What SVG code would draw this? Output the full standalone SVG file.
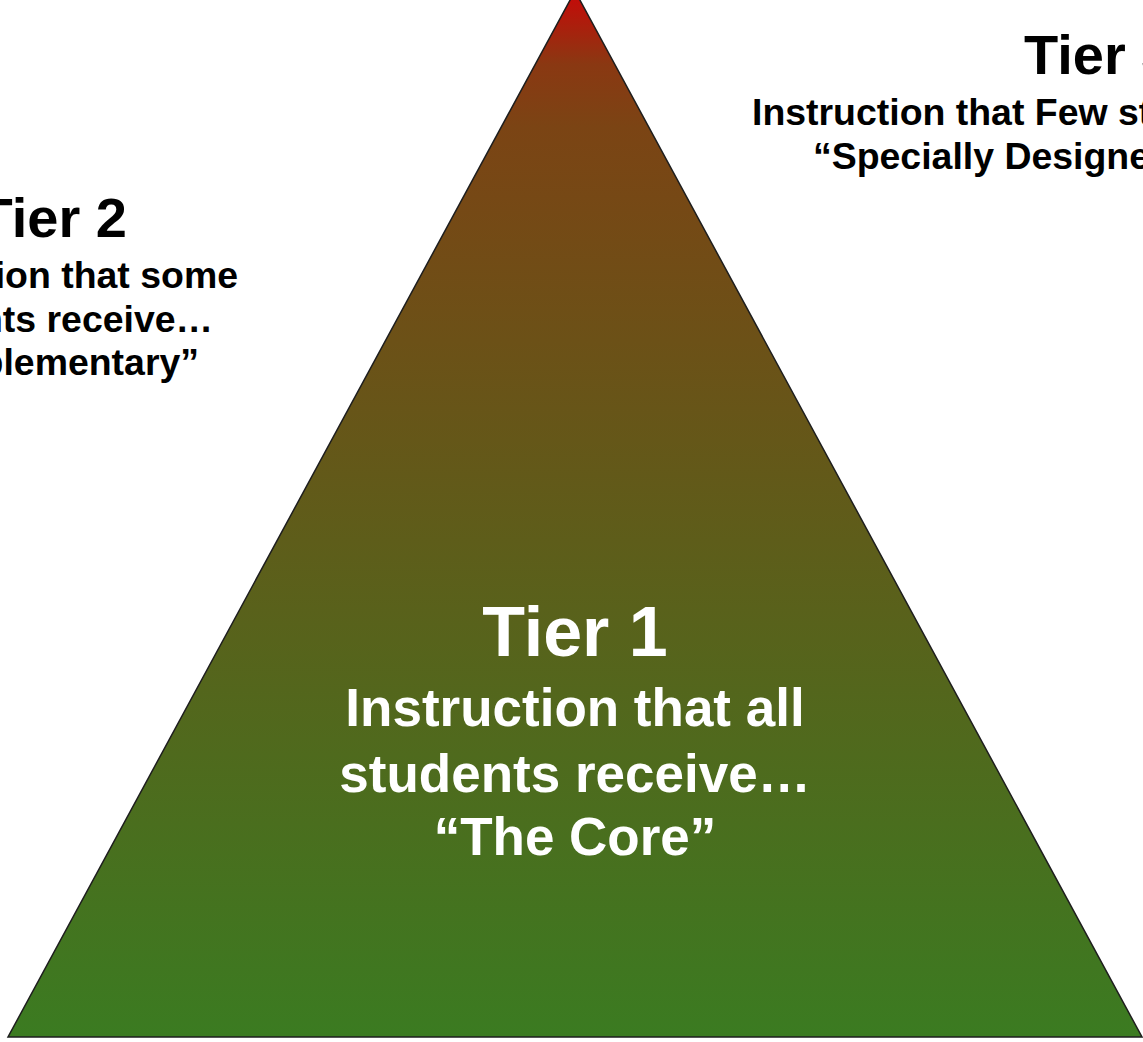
<svg xmlns="http://www.w3.org/2000/svg" width="1143" height="1042" viewBox="0 0 1143 1042">
  <style>
    text { font-family: "Liberation Sans", Arial, sans-serif; font-weight: bold; }
    .dark { fill: #000000; }
    .light { fill: #ffffff; text-anchor: middle; }
    .head { font-size: 56px; }
    .side { font-size: 36px; }
    .t1head { font-size: 70px; }
    .t1body { font-size: 53px; }
  </style>
  <defs>
    <linearGradient id="pyramidFill" x1="0" y1="0" x2="0" y2="1">
      <stop offset="0" stop-color="#c80808"/>
      <stop offset="0.07" stop-color="#8a3812"/>
      <stop offset="0.13" stop-color="#7b4414"/>
      <stop offset="1" stop-color="#3b7b21"/>
    </linearGradient>
  </defs>

  <rect width="1143" height="1042" fill="#ffffff"/>

  <!-- pyramid body -->
  <g id="pyramid">
    <polygon points="575,-9 1142,1037 8,1037" fill="url(#pyramidFill)" stroke="#1e1e1e" stroke-width="1.5" stroke-linejoin="miter"/>
  </g>

  <!-- connectors: none in this drawing -->
  <g id="connectors"/>

  <!-- Tier 1: core instruction, inside the pyramid -->
  <g id="tier1">
    <text class="light t1head" x="575" y="656">Tier 1</text>
    <text class="light t1body" x="575" y="726">Instruction that all</text>
    <text class="light t1body" x="575" y="792">students receive…</text>
    <text class="light t1body" x="575" y="855">“The Core”</text>
  </g>

  <!-- Tier 2: supplementary, upper left -->
  <g id="tier2">
    <text class="dark head" text-anchor="end" x="127" y="237">Tier 2</text>
    <text class="dark side" text-anchor="end" transform="translate(238,288) scale(1.04,1)">Instruction that some</text>
    <text class="dark side" text-anchor="end" transform="translate(213,332) scale(1.04,1)">students receive…</text>
    <text class="dark side" text-anchor="end" transform="translate(199,375) scale(1.04,1)">“Supplementary”</text>
  </g>

  <!-- Tier 3: specially designed, upper right -->
  <g id="tier3">
    <text class="dark head" text-anchor="start" x="1024" y="74">Tier 3</text>
    <text class="dark side" text-anchor="start" transform="translate(752,125) scale(1.04,1)">Instruction that Few students receive…</text>
    <text class="dark side" text-anchor="start" transform="translate(813,169) scale(1.04,1)">“Specially Designed Instruction”</text>
  </g>
</svg>
